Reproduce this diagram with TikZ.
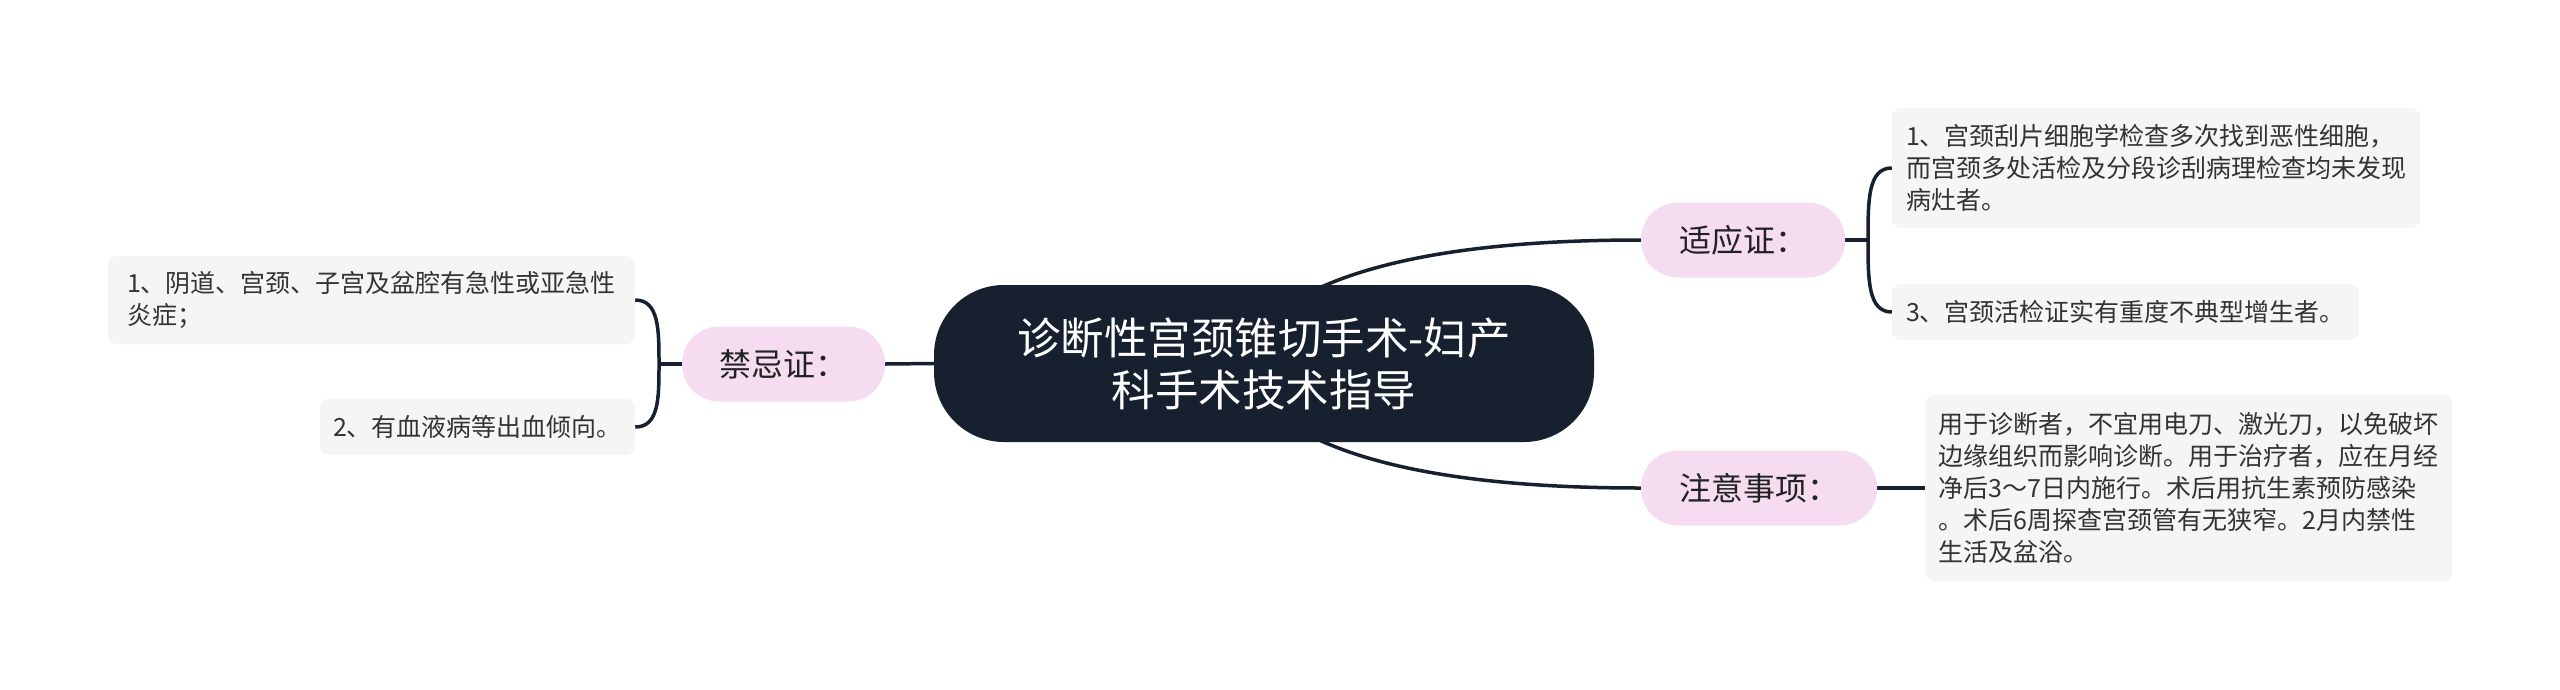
\documentclass[tikz,border=0pt]{standalone}
\usepackage{fontspec}
\setmainfont{Noto Sans CJK SC}
\usetikzlibrary{backgrounds}
\definecolor{navy}{HTML}{16202F}
\definecolor{pinkbg}{HTML}{F5DCF0}
\definecolor{leafbg}{HTML}{F5F5F5}
\definecolor{txt}{HTML}{333333}
\definecolor{btxt}{HTML}{222222}
\tikzset{
  rootbox/.style={fill=navy, text=white, rounded corners=70pt, minimum width=660pt, minimum height=157pt, inner sep=0pt, align=center, font=\fontsize{43.5}{52}\selectfont},
  branchbox/.style={fill=pinkbg, text=btxt, rounded corners=37pt, minimum height=75pt, inner sep=0pt, font=\fontsize{32}{38}\selectfont},
  leafbox/.style={fill=leafbg, text=txt, rounded corners=9pt, inner sep=0pt, align=left, font=\fontsize{25}{32}\selectfont},
  link/.style={draw=navy, line width=3.5pt},
}
\begin{document}
\begin{tikzpicture}[x=1pt,y=-1pt]
\useasboundingbox (0,0) rectangle (2560,689);
% root
\node[rootbox] (root) at (1264,363.5) {诊断性宫颈锥切手术-妇产\\科手术技术指导};
% branches
\node[branchbox, minimum width=203pt] (jjz) at (783.5,364) {禁忌证：};
\node[branchbox, minimum width=204pt] (syz) at (1743,240) {适应证：};
\node[branchbox, minimum width=236pt] (zysx) at (1759,488) {注意事项：};
% leaves
\node[leafbox, minimum width=528pt, minimum height=120pt] (a1) at (2156,168) {1、宫颈刮片细胞学检查多次找到恶性细胞，\\而宫颈多处活检及分段诊刮病理检查均未发现\\病灶者。};
\node[leafbox, minimum width=467pt, minimum height=56pt] (a3) at (2125.5,312) {3、宫颈活检证实有重度不典型增生者。};
\node[leafbox, minimum width=527pt, minimum height=186pt] (n1) at (2188.5,488) {用于诊断者，不宜用电刀、激光刀，以免破坏\\边缘组织而影响诊断。用于治疗者，应在月经\\净后3～7日内施行。术后用抗生素预防感染\\。术后6周探查宫颈管有无狭窄。2月内禁性\\生活及盆浴。};
\node[leafbox, minimum width=527pt, minimum height=88pt] (l1) at (371.5,300) {1、阴道、宫颈、子宫及盆腔有急性或亚急性\\炎症；};
\node[leafbox, minimum width=315pt, minimum height=56pt] (l2) at (477.5,427) {2、有血液病等出血倾向。};
% connectors
\coordinate (rootUp) at (1280,310);
\coordinate (rootDown) at (1280,418);
\coordinate (jR) at (1868,240);
\coordinate (jL) at (659,364);
\begin{scope}[on background layer]
\fill[white] (0,0) rectangle (2560,689);
\draw[link] (rootUp) .. controls (1346.7,263.3) and (1466.7,240) .. (syz.west);
\draw[link] (rootDown) .. controls (1346.7,464.7) and (1466.7,488) .. (zysx.west);
\draw[link] (root.west) -- (jjz.east);
\draw[link] (jjz.west) -- (jL);
\draw[link] (jL) .. controls (659,330) and (659,300) .. (l1.east);
\draw[link] (jL) .. controls (659,398) and (659,427) .. (l2.east);
\draw[link] (syz.east) -- (jR);
\draw[link] (jR) .. controls (1868,200) and (1868,168) .. (a1.west);
\draw[link] (jR) .. controls (1868,280) and (1868,312) .. (a3.west);
\draw[link] (zysx.east) -- (n1.west);
\end{scope}
\end{tikzpicture}
\end{document}
